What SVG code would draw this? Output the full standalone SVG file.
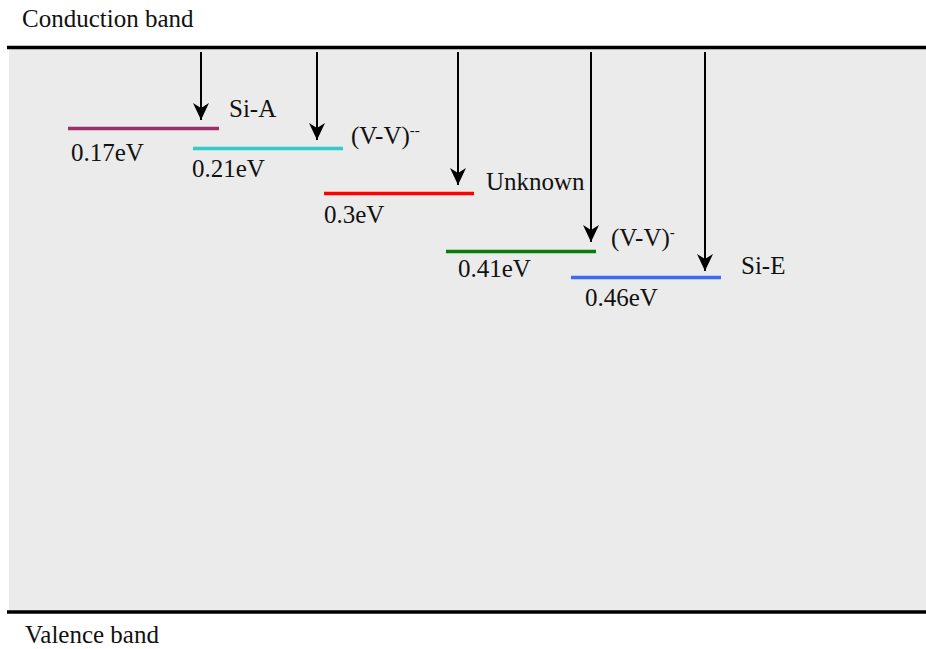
<svg xmlns="http://www.w3.org/2000/svg" width="926" height="649" viewBox="0 0 926 649">
<style>
text{font-family:"Liberation Serif","Times New Roman",serif;font-size:25px;fill:#111}
.lvl{stroke-width:3.5;fill:none}
.arr{stroke:#000;stroke-width:2;fill:none;marker-end:url(#ah)}
</style>
<defs>
<marker id="ah" markerUnits="userSpaceOnUse" markerWidth="20" markerHeight="18" refX="17" refY="8" orient="auto" viewBox="0 0 20 18">
<path d="M0,0 L17,8 L0,16 L5,8 Z" fill="#000"/>
</marker>
</defs>
<rect x="9" y="48" width="917" height="563" fill="#ebebeb"/>
<g id="conduction-band">
<line x1="7" y1="47.5" x2="926" y2="47.5" stroke="#000" stroke-width="3.5"/>
<text x="22" y="27">Conduction band</text>
</g>
<g id="valence-band">
<line x1="7" y1="612" x2="926" y2="612" stroke="#000" stroke-width="3.5"/>
<text x="25" y="643">Valence band</text>
</g>
<g id="level-SiA">
<line class="lvl" x1="68" y1="128.5" x2="219" y2="128.5" stroke="#9b2f66"/>
<text x="71" y="161">0.17eV</text>
<text x="229" y="117">Si-A</text>
</g>
<g id="level-VV2">
<line class="lvl" x1="193" y1="148.5" x2="343" y2="148.5" stroke="#33cccc"/>
<text x="192" y="177">0.21eV</text>
<text x="351" y="144">(V-V)<tspan font-size="15" dy="-9">--</tspan></text>
</g>
<g id="level-unknown">
<line class="lvl" x1="324" y1="193.5" x2="474" y2="193.5" stroke="#ff0000"/>
<text x="324" y="223">0.3eV</text>
<text x="486" y="190">Unknown</text>
</g>
<g id="level-VV1">
<line class="lvl" x1="446" y1="251.5" x2="596" y2="251.5" stroke="#0b7a0b"/>
<text x="458" y="277">0.41eV</text>
<text x="611" y="246">(V-V)<tspan font-size="15" dy="-9">-</tspan></text>
</g>
<g id="level-SiE">
<line class="lvl" x1="571" y1="277.5" x2="721" y2="277.5" stroke="#3b6cf0"/>
<text x="585" y="306">0.46eV</text>
<text x="741" y="274">Si-E</text>
</g>
<g id="connectors">
<line class="arr" x1="201" y1="52" x2="201" y2="120"/>
<line class="arr" x1="317" y1="52" x2="317" y2="140"/>
<line class="arr" x1="458" y1="52" x2="458" y2="185"/>
<line class="arr" x1="591" y1="52" x2="591" y2="242"/>
<line class="arr" x1="705" y1="52" x2="705" y2="271"/>
</g>
</svg>
